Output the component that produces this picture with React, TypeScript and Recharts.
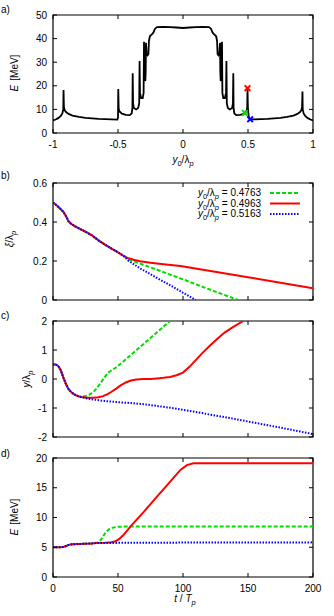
import React from "react";
import { LineChart, Line, XAxis, YAxis, ReferenceArea } from "recharts";

const FONT = '"Liberation Sans", Arial, Helvetica, sans-serif';

// ---------- Panel a: final energy vs initial position ----------
const scanY0 = [
  -1.0, -0.98, -0.96, -0.94, -0.928, -0.921, -0.919, -0.916, -0.91, -0.9, -0.88, -0.85, -0.8, -0.75, -0.7, -0.65,
  -0.6, -0.55, -0.505, -0.5, -0.498, -0.495, -0.49, -0.47, -0.44, -0.41, -0.395, -0.389, -0.387, -0.384, -0.378,
  -0.36, -0.345, -0.337, -0.334, -0.331, -0.322, -0.31, -0.303, -0.3, -0.296, -0.29, -0.287, -0.285, -0.28, -0.272,
  -0.266, -0.262, -0.255, -0.24, -0.228, -0.215, -0.2, -0.15, -0.1, -0.05, 0,
  0.05, 0.1, 0.15, 0.2, 0.215, 0.228, 0.24, 0.255, 0.262, 0.266, 0.272, 0.28, 0.285, 0.287, 0.29, 0.296, 0.3,
  0.303, 0.31, 0.322, 0.331, 0.334, 0.337, 0.345, 0.36, 0.378, 0.384, 0.387, 0.389, 0.395, 0.41, 0.44, 0.46,
  0.4763, 0.49, 0.494, 0.4963, 0.499, 0.505, 0.51, 0.5163, 0.55, 0.6, 0.65, 0.7, 0.75, 0.8, 0.85, 0.88, 0.9, 0.91,
  0.916, 0.919, 0.921, 0.928, 0.94, 0.96, 0.98, 1.0,
];
const scanE = [
  5.3, 5.7, 6.3, 7.2, 8.3, 10, 18.2, 11, 9.6, 8.9, 8.1, 7.4, 6.8, 6.4, 6.2, 6.0,
  5.9, 5.8, 5.7, 6.5, 18.6, 10.5, 9.2, 8.2, 7.7, 7.6, 8.3, 10.5, 25.3, 12.5, 10.6,
  10.0, 10.6, 12.5, 30.5, 17, 14.8, 14.8, 17, 38.7, 23, 22, 26, 38.2, 34, 33,
  33.5, 39, 41, 41.8, 42.5, 44.2, 44.9, 45.0, 44.9, 44.7, 44.5,
  44.7, 44.9, 45.0, 44.9, 44.2, 42.5, 41.8, 41, 39, 33.5, 33, 34, 38.2, 26, 22, 23, 38.7,
  17, 14.8, 14.8, 17, 30.5, 12.5, 10.6, 10.0, 10.6, 12.5, 25.3, 10.5, 8.3, 7.6, 7.7, 8.0,
  8.5, 9.5, 11, 19.0, 11, 7.2, 6.2, 5.8, 5.8, 5.9, 6.0, 6.2, 6.4, 6.8, 7.4, 8.1, 8.9, 9.6,
  11, 17.6, 10, 8.3, 7.2, 6.3, 5.7, 5.3,
];
const markY0 = [0.4763, 0.4963, 0.5163];
const markE = [8.5, 19.0, 5.8];

// ---------- Panel b: xi / lambda_p vs t ----------
const bEarlyT = [0, 2, 4, 6, 8, 10, 12, 14, 17, 20, 25, 30, 35, 40, 45, 50, 54];
const bEarlyXi = [0.5, 0.49, 0.478, 0.465, 0.452, 0.43, 0.403, 0.39, 0.378, 0.367, 0.35, 0.331, 0.306, 0.284, 0.264, 0.244, 0.228];
const bGreenT = [58, 62, 67, 80, 100, 120, 142.5];
const bGreenXi = [0.21, 0.199, 0.187, 0.155, 0.106, 0.055, 0];
const bRedT = [58, 62, 67, 75, 85, 98, 120, 150, 175, 200];
const bRedXi = [0.214, 0.206, 0.199, 0.191, 0.183, 0.174, 0.15, 0.117, 0.089, 0.06];
const bBlueT = [58, 67, 80, 90, 100, 109.7];
const bBlueXi = [0.202, 0.162, 0.113, 0.076, 0.037, 0];

// ---------- Panel c: y / lambda_p vs t ----------
const cEarlyT = [0, 2, 4, 6, 8, 10, 12, 14, 16, 18, 20];
const cEarlyY = [0.5, 0.5, 0.45, 0.3, 0.05, -0.18, -0.35, -0.45, -0.52, -0.57, -0.6];
const cGreenT = [22, 25, 28, 31, 34, 36, 39, 42, 45, 48.7, 60, 70, 80, 90];
const cGreenY = [-0.61, -0.59, -0.54, -0.45, -0.3, -0.18, 0.02, 0.2, 0.3, 0.4, 0.83, 1.22, 1.61, 2];
const cRedT = [22, 26, 31, 35, 38.5, 42, 45, 48.7, 52, 56.4, 60, 64, 70, 75, 80, 85, 90, 95, 100, 105, 110, 115, 120, 126, 132, 138.7, 146.4];
const cRedY = [-0.62, -0.645, -0.65, -0.63, -0.59, -0.52, -0.44, -0.33, -0.22, -0.11, -0.05, -0.02, 0.0, 0.0, 0.02, 0.04, 0.07, 0.13, 0.22, 0.42, 0.66, 0.9, 1.12, 1.37, 1.6, 1.8, 2.0];
const cBlueT = [22, 25, 30, 40, 50, 60, 70, 80, 90, 100, 120, 140, 160, 180, 200];
const cBlueY = [-0.63, -0.66, -0.7, -0.76, -0.8, -0.83, -0.87, -0.93, -0.99, -1.06, -1.22, -1.38, -1.55, -1.72, -1.9];

// ---------- Panel d: E vs t ----------
const dEarlyT = [0, 5, 8, 10, 12, 15, 20, 25, 30, 33];
const dEarlyE = [5.0, 5.0, 5.05, 5.2, 5.4, 5.5, 5.55, 5.6, 5.65, 5.7];
const dGreenT = [35, 37, 39, 41, 43, 46, 50, 60, 200];
const dGreenE = [5.85, 6.3, 7.0, 7.6, 8.0, 8.3, 8.45, 8.5, 8.5];
const dRedT = [40, 45, 48, 51, 54, 57, 60, 70, 80, 90, 98, 103, 108, 200];
const dRedE = [5.75, 5.85, 6.0, 6.4, 7.0, 7.8, 8.6, 11.0, 13.5, 16.0, 18.0, 18.8, 19.1, 19.1];
const dBlueT = [40, 60, 100, 150, 200];
const dBlueE = [5.72, 5.75, 5.78, 5.8, 5.82];

// ---------- tick labels ----------
const scanTicks = [-1, -0.5, 0, 0.5, 1];
const scanETicks = [0, 10, 20, 30, 40, 50];
const tTicks = [0, 50, 100, 150, 200];
const xiTicks = [0, 0.2, 0.4, 0.6];
const yTicks = [-2, -1, 0, 1, 2];
const eTicks = [0, 5, 10, 15, 20];
const legendValues = ["0.4763", "0.4963", "0.5163"];

const zip = (xs: number[], ys: number[]) => xs.map((x, i) => ({ x, y: ys[i] }));

const scanData = zip(scanY0, scanE);
const bGreen = zip([...bEarlyT, ...bGreenT], [...bEarlyXi, ...bGreenXi]);
const bRed = zip([...bEarlyT, ...bRedT], [...bEarlyXi, ...bRedXi]);
const bBlue = zip([...bEarlyT, ...bBlueT], [...bEarlyXi, ...bBlueXi]);
const cGreen = zip([...cEarlyT, ...cGreenT], [...cEarlyY, ...cGreenY]);
const cRed = zip([...cEarlyT, ...cRedT], [...cEarlyY, ...cRedY]);
const cBlue = zip([...cEarlyT, ...cBlueT], [...cEarlyY, ...cBlueY]);
const dGreen = zip([...dEarlyT, ...dGreenT], [...dEarlyE, ...dGreenE]);
const dRed = zip([...dEarlyT, ...dRedT], [...dEarlyE, ...dRedE]);
const dBlue = zip([...dEarlyT, ...dBlueT], [...dEarlyE, ...dBlueE]);

// ---------- styling ----------
const GREEN = "#00dd00";
const RED = "#ff0000";
const BLUE = "#0000ff";
const SERIES = [
  { color: GREEN, dash: "4 2" },
  { color: RED, dash: undefined as string | undefined },
  { color: BLUE, dash: "1.5 1.5" },
];
const MARK_COLORS = [GREEN, RED, BLUE];

const W = 334;
const PLOT_L = 53;
const PLOT_R = 313;
const PLOT_W = PLOT_R - PLOT_L;
const YAXIS_W = 40;
const XAXIS_H = 20;

const makeXTick = (plotH: number, labels: boolean) => (p: any) => {
  const { x, y, payload } = p;
  return (
    <g>
      <line x1={x} x2={x} y1={y} y2={y - 4} stroke="#000" strokeWidth={1} />
      <line x1={x} x2={x} y1={y - plotH} y2={y - plotH + 4} stroke="#000" strokeWidth={1} />
      {labels && (
        <text x={x} y={y + 15} textAnchor="middle" fontSize={10} fontFamily={FONT} fill="#000">
          {String(payload.value)}
        </text>
      )}
    </g>
  );
};

const makeYTick = (plotW: number) => (p: any) => {
  const { x, y, payload } = p;
  return (
    <g>
      <line x1={x} x2={x + 4} y1={y} y2={y} stroke="#000" strokeWidth={1} />
      <line x1={x + plotW} x2={x + plotW - 4} y1={y} y2={y} stroke="#000" strokeWidth={1} />
      <text x={x - 6} y={y + 3.6} textAnchor="end" fontSize={10} fontFamily={FONT} fill="#000">
        {String(payload.value)}
      </text>
    </g>
  );
};

const XMark = (color: string) => (p: any) => {
  const { cx, cy } = p;
  if (cx == null || cy == null) return <g />;
  const s = 2.8;
  return (
    <g>
      <line x1={cx - s} y1={cy - s} x2={cx + s} y2={cy + s} stroke={color} strokeWidth={2} />
      <line x1={cx - s} y1={cy + s} x2={cx + s} y2={cy - s} stroke={color} strokeWidth={2} />
    </g>
  );
};

type PanelProps = {
  top: number;
  height: number;
  plotTop: number;
  plotBottom: number;
  xDomain: [number, number];
  xTicks: number[];
  xLabels: boolean;
  yDomain: [number, number];
  yTicks: number[];
  children: React.ReactNode;
};

function Panel(props: PanelProps) {
  const { top, height, plotTop, plotBottom, xDomain, xTicks, xLabels, yDomain, yTicks, children } = props;
  const plotH = plotBottom - plotTop;
  const margin = {
    top: plotTop - top,
    left: PLOT_L - YAXIS_W,
    right: W - PLOT_R,
    bottom: top + height - plotBottom - XAXIS_H,
  };
  return (
    <div style={{ position: "absolute", left: 0, top, width: W, height }}>
      <LineChart width={W} height={height} margin={margin}>
        <XAxis
          type="number"
          dataKey="x"
          domain={xDomain}
          ticks={xTicks}
          interval={0}
          allowDataOverflow
          height={XAXIS_H}
          axisLine={false}
          tickLine={false}
          tickSize={0}
          tickMargin={0}
          tick={makeXTick(plotH, xLabels)}
        />
        <YAxis
          type="number"
          dataKey="y"
          domain={yDomain}
          ticks={yTicks}
          interval={0}
          allowDataOverflow
          width={YAXIS_W}
          axisLine={false}
          tickLine={false}
          tickSize={0}
          tickMargin={0}
          tick={makeYTick(PLOT_W)}
        />
        {children}
        <ReferenceArea
          x1={xDomain[0]}
          x2={xDomain[1]}
          y1={yDomain[0]}
          y2={yDomain[1]}
          fill="none"
          fillOpacity={0}
          stroke="#000"
          strokeWidth={1.2}
          ifOverflow="visible"
        />
      </LineChart>
    </div>
  );
}

const seriesLines = (sets: { x: number; y: number }[][], prefix: string) =>
  sets.map((d, i) => (
    <Line
      key={prefix + i}
      data={d}
      dataKey="y"
      type="linear"
      stroke={SERIES[i].color}
      strokeWidth={2}
      strokeDasharray={SERIES[i].dash}
      dot={false}
      activeDot={false}
      isAnimationActive={false}
    />
  ));

export default function App() {
  return (
    <div style={{ position: "absolute", left: 0, top: 0, width: W, height: 616, background: "#fff", fontFamily: FONT }}>
      <Panel top={0} height={175} plotTop={15} plotBottom={133} xDomain={[-1, 1]} xTicks={scanTicks} xLabels yDomain={[0, 50]} yTicks={scanETicks}>
        <Line data={scanData} dataKey="y" type="linear" stroke="#000" strokeWidth={1.8} dot={false} activeDot={false} isAnimationActive={false} />
        {markY0.map((x0, i) => (
          <Line
            key={"m" + i}
            data={[{ x: x0, y: markE[i] }]}
            dataKey="y"
            stroke="none"
            dot={XMark(MARK_COLORS[i])}
            activeDot={false}
            isAnimationActive={false}
          />
        ))}
      </Panel>
      <Panel top={168} height={160} plotTop={183} plotBottom={300} xDomain={[0, 200]} xTicks={tTicks} xLabels={false} yDomain={[0, 0.6]} yTicks={xiTicks}>
        {seriesLines([bGreen, bRed, bBlue], "b")}
      </Panel>
      <Panel top={306} height={160} plotTop={321} plotBottom={437} xDomain={[0, 200]} xTicks={tTicks} xLabels={false} yDomain={[-2, 2]} yTicks={yTicks}>
        {seriesLines([cGreen, cRed, cBlue], "c")}
      </Panel>
      <Panel top={443} height={173} plotTop={458} plotBottom={577} xDomain={[0, 200]} xTicks={tTicks} xLabels yDomain={[0, 20]} yTicks={eTicks}>
        {seriesLines([dGreen, dRed, dBlue], "d")}
      </Panel>

      <svg width={W} height={616} style={{ position: "absolute", left: 0, top: 0, pointerEvents: "none" }} fontFamily={FONT} fontSize={10} fill="#000">
        <text x={1} y={13}>a)</text>
        <text x={1} y={179}>b)</text>
        <text x={1} y={319}>c)</text>
        <text x={1} y={457}>d)</text>

        <text transform="translate(18,73) rotate(-90)" textAnchor="middle">
          <tspan fontStyle="italic">E</tspan>
          <tspan dx={4}>[MeV]</tspan>
        </text>
        <text transform="translate(13,239) rotate(-90)" textAnchor="middle">
          <tspan fontStyle="italic">ξ</tspan>
          <tspan>/λ</tspan>
          <tspan fontStyle="italic" fontSize={7.5} dy={3}>p</tspan>
        </text>
        <text transform="translate(30,379) rotate(-90)" textAnchor="middle">
          <tspan fontStyle="italic">y</tspan>
          <tspan>/λ</tspan>
          <tspan fontStyle="italic" fontSize={7.5} dy={3}>p</tspan>
        </text>
        <text transform="translate(18,517) rotate(-90)" textAnchor="middle">
          <tspan fontStyle="italic">E</tspan>
          <tspan dx={4}>[MeV]</tspan>
        </text>

        <text x={183} y={163} textAnchor="middle">
          <tspan fontStyle="italic">y</tspan>
          <tspan fontSize={7.5} dy={3}>0</tspan>
          <tspan dy={-3}>/λ</tspan>
          <tspan fontStyle="italic" fontSize={7.5} dy={3}>p</tspan>
        </text>
        <text x={185} y={602} textAnchor="middle">
          <tspan fontStyle="italic">t</tspan>
          <tspan> / </tspan>
          <tspan fontStyle="italic">T</tspan>
          <tspan fontStyle="italic" fontSize={7.5} dy={3}>p</tspan>
        </text>

        {legendValues.map((v, i) => {
          const yb = 196 + i * 10.5;
          return (
            <g key={"lg" + i}>
              <text x={261} y={yb} textAnchor="end">
                <tspan fontStyle="italic">y</tspan>
                <tspan fontSize={7.5} dy={3}>0</tspan>
                <tspan dy={-3}>/λ</tspan>
                <tspan fontStyle="italic" fontSize={7.5} dy={3}>p</tspan>
                <tspan dy={-3}>{" = " + v}</tspan>
              </text>
              <line x1={270} x2={300} y1={yb - 3} y2={yb - 3} stroke={SERIES[i].color} strokeWidth={2} strokeDasharray={SERIES[i].dash} />
            </g>
          );
        })}
      </svg>
    </div>
  );
}
